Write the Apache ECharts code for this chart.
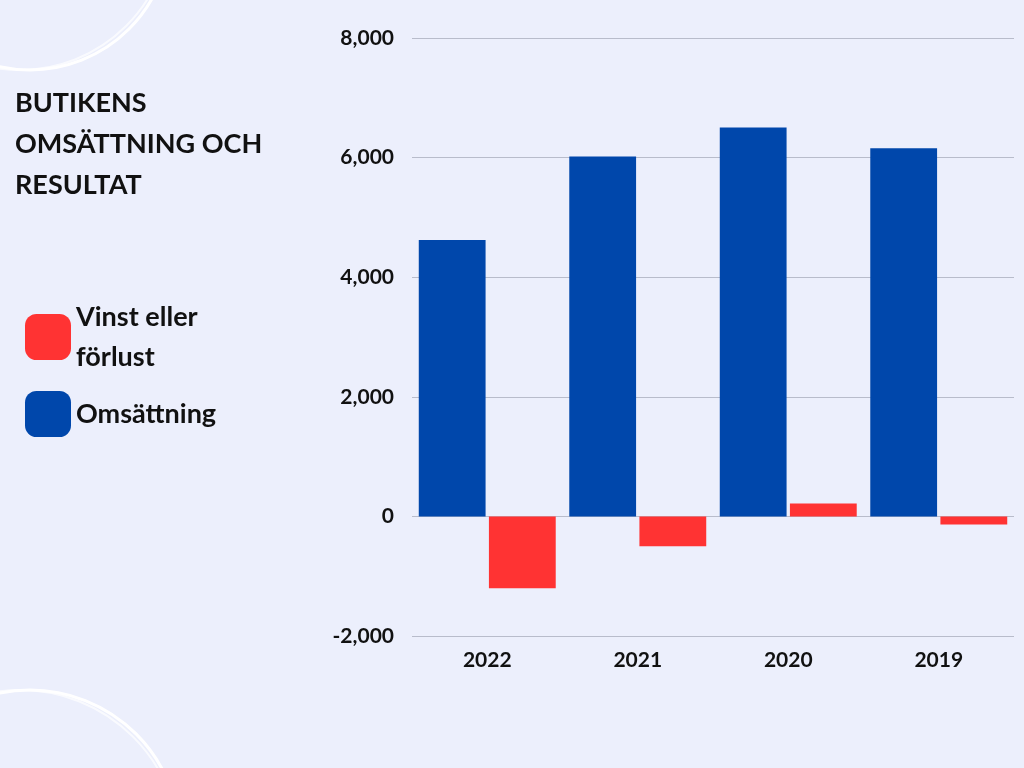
<!DOCTYPE html>
<html><head><meta charset="utf-8">
<script src="https://cdn.jsdelivr.net/npm/echarts@6/dist/echarts.min.js"></script>
<style>html,body{margin:0;padding:0;background:#ECEFFC;}#c{width:1024px;height:768px;}</style>
</head><body><div id="c"></div>
<script>
const categories = ['2022','2021','2020','2019'];
const omsattning = [4620, 6020, 6505, 6155];
const vinst = [-1200, -500, 215, -135];
const chart = echarts.init(document.getElementById('c'));
const F = 'Lato, "Open Sans", sans-serif';
chart.setOption({
  backgroundColor: '#ECEFFC',
  animation: false,
  title: { text: 'BUTIKENS\nOMSÄTTNING OCH\nRESULTAT', left: 10, top: 78,
    textStyle: { fontFamily: F, fontSize: 27, fontWeight: 'bold', color: '#111', lineHeight: 41 } },
  legend: { orient: 'vertical', left: 20, top: 292, itemWidth: 46, itemHeight: 46, itemGap: 14,
    data: ['Vinst eller\nförlust', 'Omsättning'],
    textStyle: { fontFamily: F, fontSize: 27, fontWeight: 'bold', color: '#111', lineHeight: 40 } },
  grid: { left: 412, right: 10, top: 38, bottom: 132 },
  xAxis: { type: 'category', data: categories,
    axisLine: { show: false }, axisTick: { show: false },
    axisLabel: { fontFamily: F, fontSize: 21, fontWeight: 'bold', color: '#111', margin: 14 } },
  yAxis: { type: 'value', min: -2000, max: 8000, interval: 2000,
    axisLabel: { fontFamily: F, fontSize: 21, fontWeight: 'bold', color: '#111', margin: 18,
      formatter: v => v.toLocaleString('en-US') },
    splitLine: { lineStyle: { color: '#B8BCCB' } } },
  series: [
    { name: 'Omsättning', type: 'bar', data: omsattning, itemStyle: { color: '#0047AB' },
      barGap: '5%', barCategoryGap: '9%' },
    { name: 'Vinst eller\nförlust', type: 'bar', data: vinst, itemStyle: { color: '#FF3333' } }
  ],
  graphic: [
    { type: 'arc', shape: { cx: 30, cy: -70, r: 140, startAngle: 0, endAngle: Math.PI }, style: { stroke: '#fff', lineWidth: 3, fill: null }, silent: true },
    { type: 'arc', shape: { cx: 20, cy: -80, r: 150, startAngle: 0, endAngle: Math.PI }, style: { stroke: 'rgba(255,255,255,0.7)', lineWidth: 2, fill: null }, silent: true },
    { type: 'arc', shape: { cx: 30, cy: 840, r: 150, startAngle: Math.PI, endAngle: 2*Math.PI }, style: { stroke: '#fff', lineWidth: 3, fill: null }, silent: true },
    { type: 'arc', shape: { cx: 20, cy: 850, r: 160, startAngle: Math.PI, endAngle: 2*Math.PI }, style: { stroke: 'rgba(255,255,255,0.7)', lineWidth: 2, fill: null }, silent: true }
  ]
});
</script></body></html>
